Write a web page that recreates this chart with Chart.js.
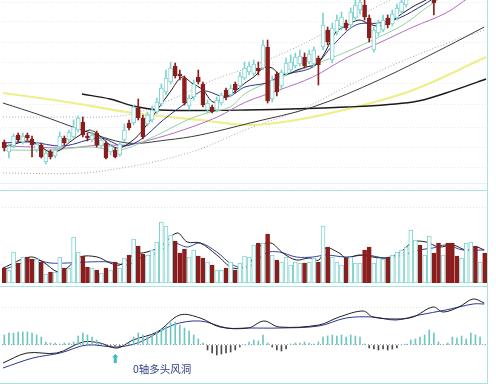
<!DOCTYPE html>
<html><head><meta charset="utf-8">
<script src="https://cdn.jsdelivr.net/npm/chart.js@4.4.1/dist/chart.umd.min.js"></script>
<style>
html,body{margin:0;padding:0;background:#fff;}
#wrap{position:relative;width:496px;height:384px;overflow:hidden;background:#fff;}
canvas{position:absolute;left:0;}
.hl{position:absolute;left:0;width:488px;height:0;}
.vl{position:absolute;top:0;left:487px;width:0;height:384px;border-left:1px solid #a9e3dd;}
#note{position:absolute;left:133px;top:361px;font:10.5px "Noto Sans CJK SC",sans-serif;color:#2e3f86;white-space:nowrap;}
#arrow{position:absolute;left:110px;top:352px;font:bold 12px "DejaVu Sans",sans-serif;color:#3fb9bf;}
</style></head><body>
<div id="wrap">
<canvas id="price" width="496" height="190" style="top:0"></canvas>
<canvas id="vol" width="496" height="78" style="top:205px"></canvas>
<canvas id="macd" width="496" height="90" style="top:293px"></canvas>
<div class="hl" style="top:183px;border-top:1px solid #e2f4f2"></div>
<div class="hl" style="top:190px;border-top:1px solid #a9e3dd"></div>
<div class="hl" style="top:286px;border-top:1px solid #a9e3dd"></div>
<div class="hl" style="top:383px;border-top:1px solid #a9e3dd"></div>
<div class="vl"></div>
<div id="arrow">⬆</div>
<div id="note">0轴多头风洞</div>
</div>
<script>
// ---------- candles ----------
const opens = [4.96,4.76,4.88,5.10,4.96,5.10,5.02,4.80,4.90,4.56,
 4.76,4.68,4.86,5.04,5.00,5.06,5.20,5.36,5.08,5.00,
 5.14,4.88,4.94,4.76,4.80,4.70,5.00,5.34,5.34,5.64,
 5.44,5.32,5.40,5.56,5.72,5.96,6.16,6.48,6.32,6.24,
 5.68,5.86,6.26,6.12,5.60,5.66,5.60,5.74,6.00,5.90,
 6.12,6.08,6.24,6.36,6.32,6.44,6.44,6.86,5.82,6.32,
 6.08,6.32,6.40,6.48,6.52,6.66,6.56,6.52,6.64,6.86,
 7.20,6.60,7.16,7.26,7.34,7.30,7.44,7.60,7.70,7.44,
 6.80,7.14,7.20,7.44,7.32,7.44,7.56,7.70,7.84,7.96,
 8.08,7.96,8.16,8.30,8.02,7.92,8.24,8.10,8.04,7.96,
 8.22,8.40,8.66,8.48,8.76];
const highs = [5.00,4.92,5.12,5.14,5.14,5.14,5.08,4.96,4.94,4.78,
 4.80,4.84,5.16,5.08,5.20,5.40,5.48,5.46,5.14,5.20,
 5.18,5.04,4.98,4.92,4.84,4.96,5.32,5.40,5.70,5.82,
 5.50,5.56,5.68,5.84,6.12,6.40,6.56,6.54,6.40,6.28,
 5.90,6.20,6.40,6.16,5.80,5.70,5.86,5.94,6.04,6.10,
 6.16,6.36,6.56,6.56,6.60,6.56,7.00,7.00,6.28,6.36,
 6.40,6.64,6.70,6.74,6.80,6.74,6.80,6.86,6.68,7.54,
 7.26,7.34,7.50,7.56,7.40,7.64,7.80,7.80,7.80,7.50,
 7.26,7.40,7.50,7.50,7.60,7.72,7.80,7.92,8.10,8.24,
 8.20,8.32,8.48,8.36,8.08,8.26,8.30,8.14,8.10,8.30,
 8.48,8.70,8.72,8.80,8.82];
const lows = [4.78,4.64,4.84,4.96,4.92,5.00,4.66,4.76,4.64,4.52,
 4.62,4.64,4.84,4.90,4.96,5.04,5.16,5.06,4.98,4.96,
 4.86,4.84,4.62,4.70,4.64,4.68,4.96,5.20,5.30,5.40,
 5.02,5.28,5.36,5.52,5.68,5.90,6.12,6.24,6.20,5.70,
 5.60,5.80,6.12,5.66,5.54,5.54,5.56,5.70,5.80,5.86,
 5.94,6.04,6.20,6.30,6.28,6.30,6.40,5.74,5.76,5.88,
 6.00,6.28,6.36,6.44,6.48,6.44,6.52,6.46,6.10,6.80,
 6.90,6.54,7.10,7.20,7.20,7.24,7.40,7.52,7.40,6.96,
 6.76,7.08,7.16,7.24,7.28,7.40,7.52,7.66,7.82,7.92,
 7.86,7.90,8.08,7.50,7.86,7.88,8.00,7.90,7.88,7.92,
 8.18,8.36,8.40,8.44,8.54];
const closes = [4.84,4.88,5.08,5.00,5.08,5.04,4.90,4.92,4.66,4.74,
 4.66,4.80,5.08,4.94,5.16,5.26,5.44,5.10,5.04,5.10,
 4.90,5.00,4.64,4.88,4.66,4.92,5.20,5.24,5.66,5.44,
 5.06,5.50,5.60,5.76,6.04,6.24,6.44,6.28,6.28,5.74,
 5.84,6.12,6.16,5.70,5.74,5.56,5.80,5.90,5.86,6.04,
 6.00,6.28,6.44,6.48,6.52,6.38,6.90,5.78,6.20,5.96,
 6.36,6.54,6.56,6.66,6.68,6.48,6.72,6.80,6.50,7.30,
 6.96,7.24,7.40,7.46,7.24,7.56,7.70,7.76,7.46,7.04,
 7.20,7.34,7.40,7.30,7.52,7.64,7.76,7.88,8.04,8.16,
 7.92,8.24,8.40,7.74,7.90,8.20,8.04,7.96,7.94,8.24,
 8.42,8.64,8.46,8.74,8.60];
// ---------- volume ----------
const volume = [1500,1300,3100,2000,2600,2600,2400,2400,2100,900,
 1100,1100,2600,1500,1500,4600,3100,2700,1600,1500,
 1300,1000,1500,1300,2100,1500,2500,2800,4400,3700,
 2900,2800,3300,4100,6100,5700,4800,4200,3000,3400,
 2600,3300,2700,2500,2100,1800,1300,1300,1500,2100,
 1300,2000,2700,2600,3800,4000,4000,4900,2800,2300,
 2100,2600,1800,2100,2000,2000,2100,2500,2100,5700,
 3600,2600,2100,1800,2500,2600,2000,2000,3300,3600,
 2000,2500,2400,2500,2800,3100,3300,3600,5300,4300,
 3800,2800,4700,3000,4000,2800,4000,4000,2700,2500,
 4000,4100,3700,2100,3000];
// ---------- MACD histogram ----------
const macdHist = [0.020,0.024,0.024,0.026,0.026,0.026,0.024,0.020,0.016,0.006,
 0.004,0.004,0.002,0.004,0.004,0.006,0.018,0.024,0.020,0.016,
 0.010,0.002,-0.002,-0.004,-0.002,-0.002,0,0.004,0.016,0.024,
 0.020,0.016,0.020,0.026,0.032,0.038,0.044,0.046,0.040,0.034,
 0.028,0.020,0.012,0.004,-0.010,-0.016,-0.020,-0.018,-0.016,-0.014,
 -0.010,-0.004,0,0.006,0.010,0.008,0.020,0.004,-0.004,-0.010,
 -0.012,-0.008,0.002,0.004,0.004,0.006,0.004,0.002,0.006,0.016,
 0.018,0.020,0.018,0.020,0.016,0.020,0.018,0.016,0.002,-0.006,
 -0.008,-0.010,-0.008,-0.010,-0.008,-0.006,0,0.002,0.010,0.012,
 0.016,0.020,0.030,0.024,0.006,0,0.004,0.016,0.014,0.018,
 0.012,0.024,0.020,0.016,0];
// ---------- moving-average lines: [bar index, value] ----------
const ma5 = [[-0.3,4.86],[2.3,4.92],[5.1,4.98],[7.7,4.88],[9.9,4.76],[12.1,4.80],[14.2,4.96],[16.4,5.10],[18.6,5.20],[20.7,5.08],[22.9,4.90],[25.0,4.84],[27.9,5.00],[30.0,5.20],[33.1,5.60],[35.9,5.96],[38.5,6.26],[40.6,6.14],[43.0,6.00],[45.2,5.76],[47.4,5.84],[49.5,5.94],[52.1,6.14],[54.3,6.28],[56.0,6.44],[58.0,6.44],[59.5,6.32],[61.4,6.32],[63.4,6.40],[65.3,6.46],[67.7,6.52],[69.7,6.80],[71.8,7.16],[74.0,7.28],[76.8,7.40],[79.0,7.32],[81.1,7.28],[83.5,7.36],[86.3,7.54],[89.1,7.70],[91.3,7.80],[94.3,8.00],[98.7,8.10],[103.9,8.40]];
const ma10 = [[-0.3,4.94],[5.6,4.96],[12.7,4.88],[20.7,5.04],[25.7,4.88],[29.4,5.00],[34.4,5.40],[39.6,5.76],[43.0,5.98],[48.2,5.86],[52.1,6.06],[56.7,6.14],[60.3,6.30],[66.8,6.46],[71.2,6.90],[76.1,7.30],[81.1,7.34],[85.5,7.44],[90.7,7.70],[94.3,7.90],[100.8,8.10],[104.3,8.30]];
const ma20 = [[-0.3,4.80],[9.9,4.80],[18.6,4.86],[25.0,4.80],[32.2,5.06],[39.6,5.40],[43.9,5.54],[48.9,5.66],[52.3,5.94],[59.5,6.24],[66.8,6.50],[74.0,6.76],[81.1,7.06],[86.3,7.30],[91.3,7.64],[95.4,7.90],[104.3,8.40]];
const ma30 = [[-0.3,4.88],[6.2,4.86],[13.6,4.84],[20.7,4.90],[26.6,4.90],[31.5,5.00],[38.7,5.20],[46.1,5.46],[52.3,5.76],[59.5,6.00],[66.8,6.26],[74.0,6.64],[81.1,6.94],[88.5,7.26],[95.6,7.54],[100.8,7.86],[104.3,8.04]];
const ma60 = [[-0.3,5.74],[7.7,5.50],[16.8,5.20],[26.6,4.94],[35.2,5.00],[42.4,5.10],[53.2,5.34],[66.8,5.66],[81.1,6.20],[95.6,6.86],[103.9,7.26]];
const ma120 = [[16.8,5.92],[22.9,5.82],[27.9,5.68],[33.7,5.60],[52.3,5.60],[74.0,5.66],[88.5,5.76],[95.6,5.94],[104.3,6.22]];
const ma250 = [[-0.3,5.94],[13.6,5.76],[27.9,5.54],[42.4,5.40],[53.2,5.30],[63.2,5.40],[76.1,5.66],[88.5,6.00],[104.3,6.66]];
const bandUpper = [[-0.3,5.46],[12.1,5.46],[26.6,5.50],[35.9,5.80],[45.2,6.20],[53.2,6.46],[61.9,6.80],[70.6,7.20],[79.2,7.60],[85.7,7.90]];
const bandLower = [[-0.3,4.34],[17.0,4.34],[27.9,4.48],[35.9,4.64],[43.0,4.84],[52.1,5.20],[64.0,5.60],[74.8,6.10],[85.7,6.56],[96.5,6.96],[103.9,7.20]];
const volMa5 = [[-0.3,1500],[5.6,2600],[8.4,2100],[11.6,1100],[13.6,1500],[16.4,2600],[20.1,2600],[22.9,2000],[25.0,1800],[27.9,2800],[30.9,3100],[33.7,3600],[37.4,5000],[39.6,4100],[42.4,4000],[46.0,2800],[49.5,1500],[52.8,1800],[55.1,3600],[57.7,4000],[60.3,3000],[63.2,2300],[66.0,2500],[68.1,2300],[69.6,3500],[72.5,3000],[74.0,2500],[76.8,2800],[79.8,2600],[82.6,2500],[85.5,3000],[88.5,4100],[91.3,4100],[94.1,3600],[97.1,3800],[100.0,3300],[102.1,3600],[103.9,3300]];
const volMa10 = [[-0.3,1300],[6.2,2300],[9.9,2000],[13.6,2000],[17.9,2100],[22.9,2100],[26.6,1800],[29.4,2500],[33.1,3000],[36.5,4000],[39.6,3600],[42.4,4000],[46.0,3100],[49.5,1800],[52.8,1600],[56.7,3000],[59.5,3100],[63.2,2600],[66.8,2600],[69.6,2800],[74.0,2600],[78.3,2800],[82.6,2500],[86.3,2800],[89.8,3300],[92.8,3500],[95.6,3800],[99.3,3300],[103.9,3300]];
const dif = [[-0.3,-0.036],[4.9,-0.016],[11.4,-0.016],[17.0,0.006],[20.7,0.004],[24.4,-0.006],[27.9,0.010],[33.1,0.026],[38.0,0.060],[42.4,0.054],[46.7,0.036],[52.8,0.034],[56.2,0.048],[59.5,0.036],[68.1,0.040],[72.5,0.056],[77.7,0.068],[79.8,0.056],[84.8,0.052],[88.5,0.056],[92.8,0.076],[95.0,0.066],[98.4,0.076],[101.5,0.092],[103.9,0.084]];
const dea = [[-0.3,-0.046],[6.2,-0.026],[12.1,-0.016],[17.9,0],[24.4,-0.004],[29.4,0.006],[36.5,0.040],[42.4,0.048],[48.2,0.034],[52.8,0.034],[59.5,0.034],[68.1,0.038],[74.0,0.054],[79.8,0.056],[84.8,0.050],[89.8,0.060],[95.6,0.070],[101.5,0.082],[103.9,0.082]];
// grid levels (no labels shown)
const priceGrid = [7.74,7.36,6.94,6.56,6.14,5.70,5.26,4.86,4.46,4.04];
const volGrid = [7500];
const macdGrid = [0.076,0];

const days = opens.map((_, i) => String(i + 1));
const RED = '#8c1d1d', CYAN = '#7fd3cf';
const up = closes.map((c, i) => c >= opens[i]);
const N = days.length;

function lineDs(pts, color, width, dash, tension) {
  return {type:'line', xAxisID:'x2', data: pts.map(p => ({x:p[0], y:p[1]})),
    borderColor: color, borderWidth: width, borderDash: dash || [], pointRadius: 0,
    tension: tension === undefined ? 0.35 : tension, fill: false, order: 5};
}
function baseOpts(yMin, yMax, grid, gridColor) {
  return {
    responsive:false, animation:false, events:[],
    layout:{padding:{left:2,right:9,top:0,bottom:0}},
    plugins:{legend:{display:false}, tooltip:{enabled:false}},
    scales:{
      x:{type:'category', labels: days, offset:true, display:false},
      x2:{type:'linear', axis:'x', position:'bottom', min:-0.5, max:N-0.5, offset:false,
          grace:0, bounds:'data', display:false, grid:{offset:false}},
      y:{min:yMin, max:yMax, display:true,
         ticks:{display:false}, grid:{drawTicks:false, color: gridColor, lineWidth:1},
         border:{display:false, dash:[1,2]},
         afterBuildTicks: s => { s.ticks = grid.map(v => ({value:v})); },
         afterFit: s => { s.width = 0; }}
    }
  };
}

new Chart(document.getElementById('price'), {
  type:'bar',
  data:{ labels: days, datasets:[
    {data: opens.map((o,i) => [o, closes[i]]), backgroundColor: up.map(u => u ? '#ffffff' : RED),
     borderColor: up.map(u => u ? CYAN : RED), borderWidth:1, borderSkipped:false,
     barThickness:4, grouped:false, order:1},
    {data: lows.map((l,i) => [l, highs[i]]), backgroundColor: up.map(u => u ? CYAN : RED),
     barThickness:1, grouped:false, order:2},
    lineDs(ma5, '#1e1e1e', 1),
    lineDs(ma10, '#2b3190', 1),
    lineDs(ma20, '#8fd49a', 1),
    lineDs(ma30, '#b46cc0', 1),
    lineDs(ma60, '#3a3a3a', 1),
    lineDs(ma120, '#1a1a1a', 1.4),
    lineDs(ma250, '#eeee8a', 2.2),
    lineDs(bandUpper, '#a8a8a8', 1, [1,2]),
    lineDs(bandLower, '#a8a8a8', 1, [1,2])
  ]},
  options: baseOpts(4.0, 7.8, priceGrid, '#e6ecee')
});

new Chart(document.getElementById('vol'), {
  type:'bar',
  data:{ labels: days, datasets:[
    {data: volume, backgroundColor: up.map(u => u ? '#ffffff' : RED),
     borderColor: up.map(u => u ? CYAN : RED), borderWidth:1, borderSkipped:false,
     barThickness:4, grouped:false, order:1},
    lineDs(volMa5, '#1e1e1e', 1),
    lineDs(volMa10, '#3442a8', 1)
  ]},
  options: baseOpts(0, 7800, volGrid, '#e2e6e8')
});

new Chart(document.getElementById('macd'), {
  type:'bar',
  data:{ labels: days, datasets:[
    {data: macdHist, backgroundColor: macdHist.map(v => v >= 0 ? '#6fc6c4' : '#4a4a4a'),
     barThickness:1, grouped:false, order:1},
    lineDs(dif, '#1e1e1e', 1),
    lineDs(dea, '#2c3596', 1)
  ]},
  options: (() => { const o = baseOpts(-0.076, 0.104, macdGrid, '#e2e6e8');
    o.scales.y.grid.color = c => (c.tick && c.tick.value === 0) ? '#a0a0a0' : '#e2e6e8';
    return o; })()
});
</script>
</body></html>
